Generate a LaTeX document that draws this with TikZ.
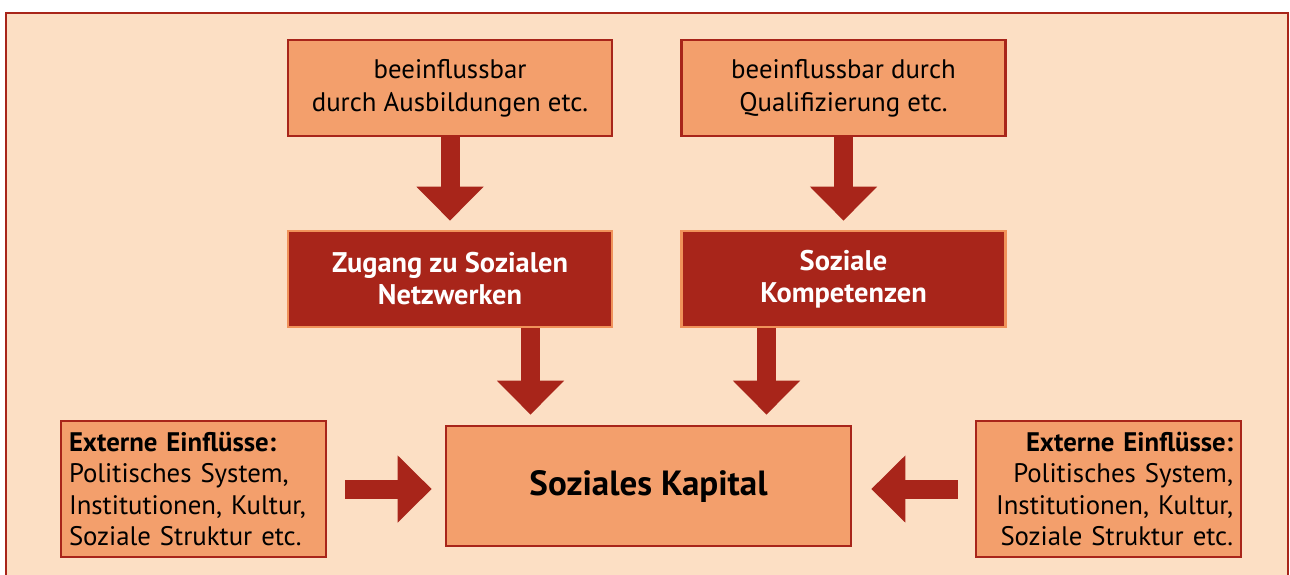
\documentclass[tikz,border=0pt]{standalone}
\usepackage{fontspec}
\setmainfont{PT Sans}
\usetikzlibrary{arrows.meta}
\definecolor{kapbg}{HTML}{FCDFC4}
\definecolor{kapbox}{HTML}{F39F6C}
\definecolor{kapred}{HTML}{A8251A}
\definecolor{kapline}{HTML}{F0925A}

\begin{document}
\begin{tikzpicture}[x=0.5pt,y=-0.5pt]
\tikzset{lightbox/.style={draw=kapred,fill=kapbox,line width=1.3pt,minimum width=162pt,minimum height=48pt,align=center,inner sep=0pt,font=\fontsize{13.4}{16.5}\selectfont},
darkbox/.style={lightbox,draw=kapline,fill=kapred,text=white,font=\fontsize{14.2}{16}\selectfont\bfseries},
sidebox/.style={lightbox,minimum width=132.5pt,minimum height=68pt,text width=124.5pt,inner xsep=4pt,font=\fontsize{13.4}{15.8}\selectfont},
bigarrow/.style={draw=kapred,line width=9.5pt,-{Triangle[width=32.5pt,length=17pt]}}}
\clip (0,0) rectangle (1290,574);
\draw[fill=kapbg,draw=kapred,line width=1.3pt] (6,13) rectangle (1288,600);

\node[lightbox] (ausb) at (450,88) {beeinflussbar\\durch Ausbildungen etc.};
\node[lightbox] (qual) at (843.5,88) {beeinflussbar durch\\Qualifizierung etc.};
\node[darkbox] (netz) at (450,279) {Zugang zu Sozialen\\Netzwerken};
\node[darkbox] (komp) at (843.5,279) {Soziale\\Kompetenzen};
\node[lightbox,minimum width=202.5pt,minimum height=60pt,font=\fontsize{17.5}{20}\selectfont\bfseries] (kapital) at (648.5,486) {Soziales Kapital};
\node[sidebox,align=left] (extl) at (193.5,489) {\textbf{Externe Einflüsse:}\\Politisches System,\\Institutionen, Kultur,\\Soziale Struktur etc.};
\node[sidebox,align=right] (extr) at (1108.5,489) {\textbf{Externe Einflüsse:}\\Politisches System,\\Institutionen, Kultur,\\Soziale Struktur etc.};

\coordinate (inl) at ([xshift=-59pt]kapital.north);
\coordinate (inr) at ([xshift=59pt]kapital.north);

\draw[bigarrow,shorten >=4.5pt] (ausb) -- (netz);
\draw[bigarrow,shorten >=4.5pt] (qual) -- (komp);
\draw[bigarrow,shorten >=5pt] (inl |- netz.south) -- (inl);
\draw[bigarrow,shorten >=5pt] (inr |- komp.south) -- (inr);
\draw[bigarrow,shorten <=9pt,shorten >=6.5pt] (extl.east) -- (extl.east -| kapital.west);
\draw[bigarrow,shorten <=8.5pt,shorten >=9.5pt] (extr.west) -- (extr.west -| kapital.east);
\end{tikzpicture}
\end{document}
